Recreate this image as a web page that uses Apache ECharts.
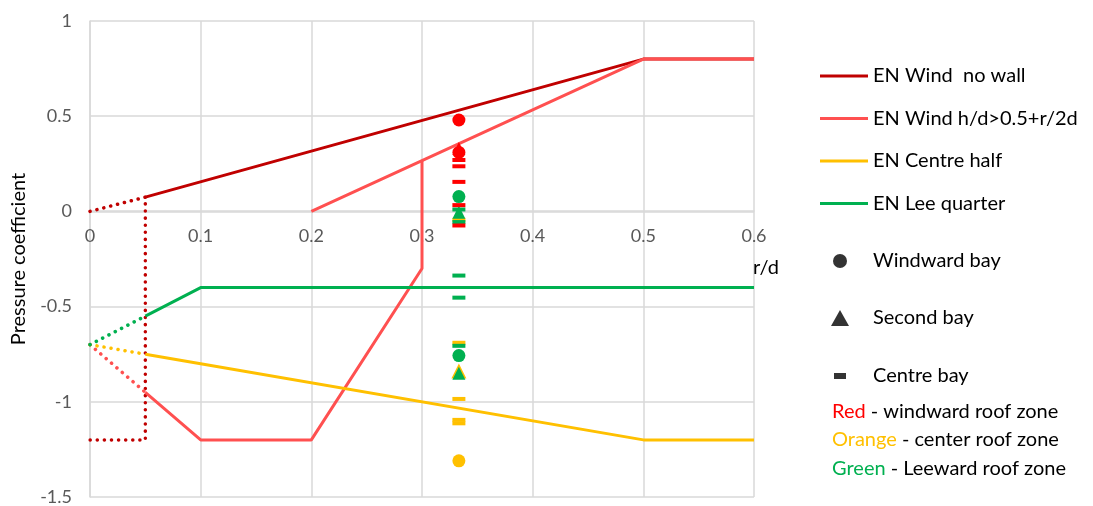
<!DOCTYPE html>
<html>
<head>
<meta charset="utf-8">
<script src="https://cdn.jsdelivr.net/npm/echarts@6/dist/echarts.min.js"></script>
<style>
  html, body { margin: 0; padding: 0; background: #fff; }
  #chart { width: 1093px; height: 506px; }
</style>
</head>
<body>
<div id="chart"></div>
<script>
// EN curves (r/d, Cp)
const windNoWall = [[0.05, 0.075], [0.5, 0.8], [0.6, 0.8]];
const windNoWallDotted = [[0, 0], [0.05, 0.075], [0.05, -1.2], [0, -1.2]];
const windHdLow = [[0.05, -0.95], [0.1, -1.2], [0.2, -1.2], [0.3, -0.3], [0.3, 0.267]];
const windHdHigh = [[0.2, 0], [0.5, 0.8], [0.6, 0.8]];
const windHdDotted = [[0, -0.7], [0.05, -0.95]];
const centreHalf = [[0.05, -0.75], [0.1, -0.8], [0.5, -1.2], [0.6, -1.2]];
const centreHalfDotted = [[0, -0.7], [0.05, -0.75]];
const leeQuarter = [[0.05, -0.55], [0.1, -0.4], [0.6, -0.4]];
const leeQuarterDotted = [[0, -0.7], [0.05, -0.55]];

// measured points, all at r/d = 1/3
const pointX = 1 / 3;
const redCircle = [0.48, 0.31];
const redTriangle = [0.33];
const redDash = [0.27, 0.237, 0.155, 0.033, -0.074];
const orangeCircle = [-1.31];
const orangeTriangle = [-0.838];
const orangeDash = [-0.044, -0.69, -0.985, -1.095, -1.113];
const greenCircle = [0.078, -0.757];
const greenTriangle = [-0.005, -0.85];
const greenDash = [0.01, -0.056, -0.337, -0.453, -0.706];

const lineNames = ['EN Wind  no wall', 'EN Wind h/d>0.5+r/2d', 'EN Centre half', 'EN Lee quarter'];
const markerNames = ['Windward bay', 'Second bay', 'Centre bay'];

const RED_D = '#C00000', RED_L = '#FF5050', ORANGE = '#FFC000', GREEN = '#00B050', RED_P = '#FF0000';
const FONT = 'Lato';

const chart = echarts.init(document.getElementById('chart'));

function solid(name, data, color) {
  return {
    name: name, type: 'line', data: data, symbol: 'none', silent: true,
    lineStyle: { color: color, width: 3 }, itemStyle: { color: color }, z: 2
  };
}
function dotted(name, data, color) {
  return {
    name: name, type: 'line', data: data, symbol: 'none', silent: true,
    lineStyle: { color: color, width: 3.5, type: [0.1, 7], cap: 'round' }, z: 2
  };
}
function pts(vals, symbol, size, color, z) {
  return {
    type: 'scatter', data: vals.map(v => [pointX, v]), symbol: symbol,
    symbolSize: size, itemStyle: { color: color, opacity: 1 }, z: z, silent: true
  };
}

const dash = [13, 4];
const series = [
  solid(lineNames[0], windNoWall, RED_D),
  dotted('dot0', windNoWallDotted, RED_D),
  solid(lineNames[1], windHdLow, RED_L),
  solid(lineNames[1], windHdHigh, RED_L),
  dotted('dot1', windHdDotted, RED_L),
  solid(lineNames[2], centreHalf, ORANGE),
  dotted('dot2', centreHalfDotted, ORANGE),
  solid(lineNames[3], leeQuarter, GREEN),
  dotted('dot3', leeQuarterDotted, GREEN),
  pts(orangeTriangle, 'triangle', 15, ORANGE, 3),
  pts(orangeDash, 'rect', dash, ORANGE, 3),
  pts(orangeCircle, 'circle', 13, ORANGE, 3),
  pts(greenDash, 'rect', dash, GREEN, 4),
  pts(greenTriangle, 'triangle', 13, GREEN, 4),
  pts(greenCircle, 'circle', 13, GREEN, 4),
  pts(redDash, 'rect', dash, RED_P, 5),
  pts(redCircle, 'circle', 13, RED_P, 5),
  pts(redTriangle, 'triangle', 13, RED_P, 5),
  { name: markerNames[0], type: 'scatter', data: [], itemStyle: { color: '#000' } },
  { name: markerNames[1], type: 'scatter', data: [], itemStyle: { color: '#000' } },
  { name: markerNames[2], type: 'scatter', data: [], itemStyle: { color: '#000' } }
];

const legendText = { fontFamily: FONT, fontSize: 20, color: '#000', lineHeight: 20 };

const option = {
  animation: false,
  backgroundColor: '#fff',
  grid: { left: 90, top: 21, right: 339, bottom: 9 },
  xAxis: {
    type: 'value', min: 0, max: 0.6, interval: 0.1,
    // axis crosses y = 0 (497 - 211 px above the bottom edge)
    offset: -286,
    name: 'r/d', nameLocation: 'end', nameGap: 12,
    nameTextStyle: { fontFamily: FONT, fontSize: 20, color: '#000', align: 'center', verticalAlign: 'top', padding: [47, 0, 0, 0] },
    axisLine: { onZero: false, lineStyle: { color: '#d9d9d9', width: 1.5 } },
    axisTick: { show: false },
    axisLabel: { color: '#595959', fontFamily: FONT, fontSize: 18, margin: 16 },
    splitLine: { show: true, lineStyle: { color: '#d9d9d9', width: 1.5 } }
  },
  yAxis: {
    type: 'value', min: -1.5, max: 1, interval: 0.5,
    name: 'Pressure coefficient', nameLocation: 'middle', nameGap: 61,
    nameTextStyle: { fontFamily: FONT, fontSize: 20, color: '#000' },
    axisLine: { show: true, onZero: false, lineStyle: { color: '#d9d9d9', width: 1.5 } },
    axisTick: { show: false },
    axisLabel: { color: '#595959', fontFamily: FONT, fontSize: 18, margin: 18 },
    splitLine: { show: true, lineStyle: { color: '#d9d9d9', width: 1.5 } }
  },
  legend: [
    {
      data: lineNames, orient: 'vertical', left: 820, top: 66, padding: 0,
      icon: 'rect', itemWidth: 48, itemHeight: 3, itemGap: 22.5,
      textStyle: legendText, selectedMode: false
    },
    {
      data: [markerNames[0]], left: 833, top: 251, icon: 'circle', padding: 0,
      itemWidth: 14, itemHeight: 14, selectedMode: false,
      textStyle: Object.assign({}, legendText, { padding: [0, 0, 0, 21] })
    },
    {
      data: [markerNames[1]], left: 831, top: 308, icon: 'triangle', padding: 0,
      itemWidth: 18, itemHeight: 16, selectedMode: false,
      textStyle: Object.assign({}, legendText, { padding: [0, 0, 0, 19] })
    },
    {
      data: [markerNames[2]], left: 834, top: 366, icon: 'rect', padding: 0,
      itemWidth: 12, itemHeight: 6, selectedMode: false,
      textStyle: Object.assign({}, legendText, { padding: [0, 0, 0, 22] })
    }
  ],
  graphic: [
    {
      type: 'text', left: 832, top: 397,
      style: {
        text: '{r|Red} - windward roof zone\n{o|Orange} - center roof zone\n{g|Green} - Leeward roof zone',
        fontFamily: FONT, fontSize: 20, lineHeight: 28.5, fill: '#000',
        rich: {
          r: { fill: RED_P, fontFamily: FONT, fontSize: 20 },
          o: { fill: ORANGE, fontFamily: FONT, fontSize: 20 },
          g: { fill: GREEN, fontFamily: FONT, fontSize: 20 }
        }
      }
    }
  ],
  series: series
};

chart.setOption(option);
</script>
</body>
</html>
